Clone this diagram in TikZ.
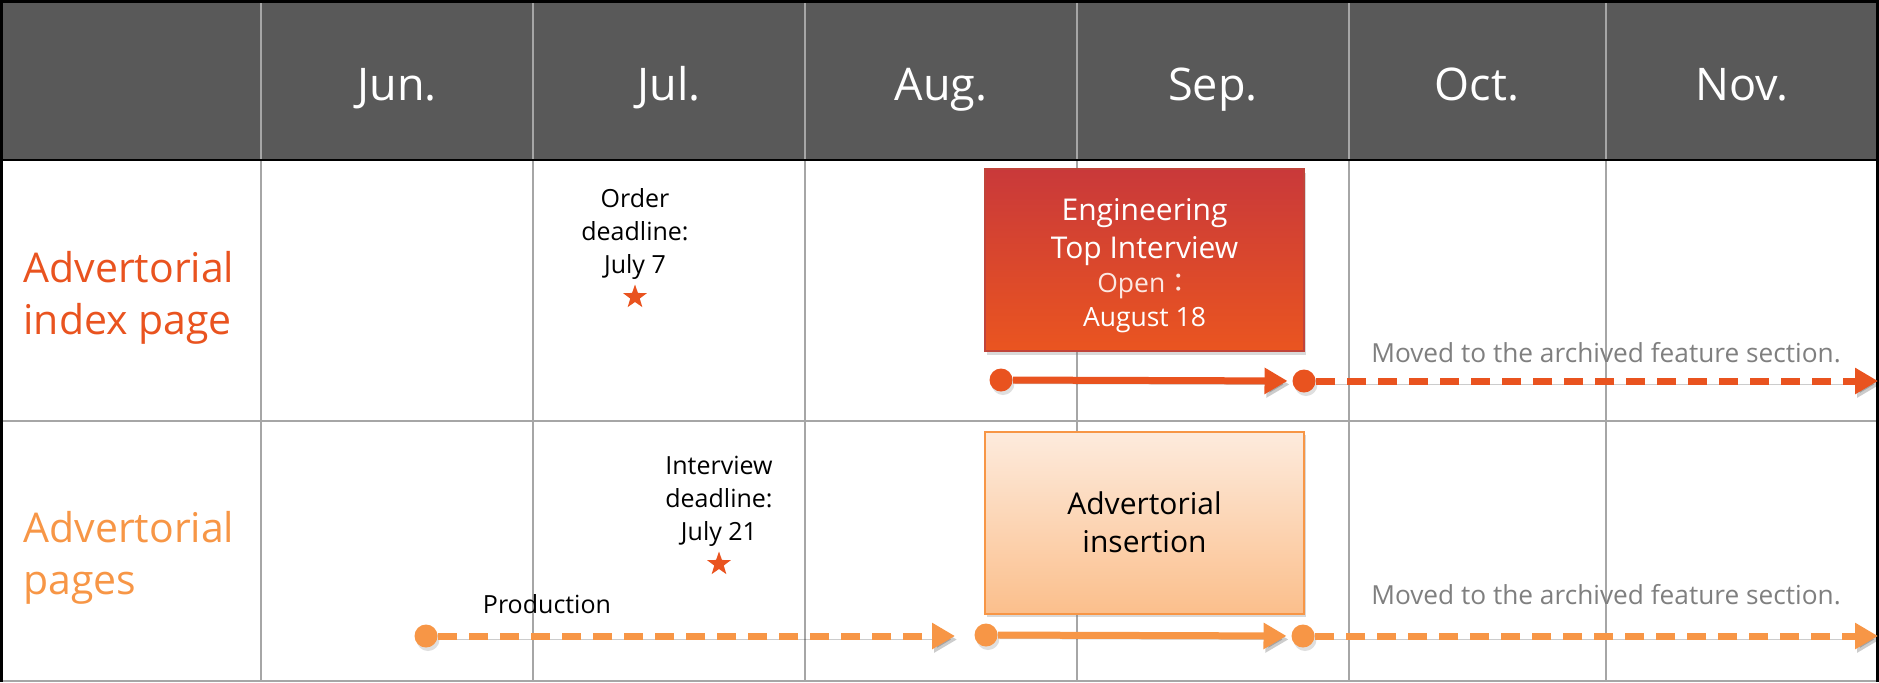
\documentclass[tikz,border=0pt]{standalone}
\usepackage{fontspec}
\setmainfont{Open Sans}
\newfontfamily\cjk{Noto Sans CJK JP}
\usetikzlibrary{arrows.meta,shadows,shapes.geometric}

\definecolor{hdr}{HTML}{595959}
\definecolor{grid}{HTML}{A6A6A6}
\definecolor{redor}{HTML}{E9531F}
\definecolor{lightor}{HTML}{F79646}
\definecolor{boxtop}{HTML}{C9393A}
\definecolor{boxbot}{HTML}{EA5520}
\definecolor{boxline}{HTML}{C0443A}
\definecolor{peachtop}{HTML}{FDEBDD}
\definecolor{peachbot}{HTML}{FBBF8C}
\definecolor{openpink}{HTML}{FCE8E2}
\definecolor{note}{HTML}{7F7F7F}

\begin{document}
\begin{tikzpicture}[x=0.4pt,y=-0.4pt,
 hline/.style={draw=grid,line width=1pt},
 frame/.style={draw=black,line width=1.1pt},
 month/.style={text=white,anchor=base,font=\fontsize{18}{22}\selectfont},
 lanehead/.style={anchor=west,inner sep=0pt,align=left,text=#1,font=\fontsize{16.4}{20.6}\selectfont},
 memo/.style={align=center,inner sep=0pt,font=\fontsize{10}{13.2}\selectfont},
 moved/.style={anchor=base,inner sep=0pt,text=note,font=\fontsize{10.5}{12.6}\selectfont},
 mstar/.style={star,star points=5,star point ratio=2.5,fill=redor,inner sep=0pt,minimum size=10pt},
 dot/.style={circle,fill=#1,inner sep=0pt,minimum size=9.2pt,
   drop shadow={opacity=0.25,shadow xshift=0.8pt,shadow yshift=-1.4pt}},
 ghost/.style={preaction={draw=black,opacity=0.2,transform canvas={shift={(0.8pt,-1.4pt)}}}},
 run/.style={draw=#1,line width=2.8pt,-{Triangle[length=9.2pt,width=10pt]},shorten >=1.8pt,ghost},
 later/.style={run=#1,dash pattern=on 7.4pt off 5pt,shorten >=0pt},
 block/.style={minimum width=127.6pt,minimum height=72.8pt,inner sep=0pt,align=center,
   drop shadow={opacity=0.3,shadow xshift=0.8pt,shadow yshift=-1.4pt}}
]
\useasboundingbox (0,0) rectangle (1879,682);

% table
\fill[hdr] (0,0) rectangle (1879,160);
\foreach \cx in {261,533,805,1077,1349,1606}
  \draw[hline] (\cx,2) -- (\cx,681);
\draw[hline] (0,421) -- (1879,421);
\draw[hline] (0,681) -- (1879,681);
\draw[frame] (1.4,0) -- (1.4,682);
\draw[frame] (0,1.4) -- (1879,1.4);
\draw[frame] (1877.6,0) -- (1877.6,682);
\draw[frame] (0,160) -- (1879,160);

\foreach \m/\cx/\id in {Jun./397/jun,Jul./669/jul,Aug./941/aug,Sep./1213/sep,Oct./1477/oct,Nov./1742/nov}
  \node[month] (\id) at (\cx,100) {\m};

\node[lanehead=redor] (index) at (23,298) {Advertorial\\index page};
\node[lanehead=lightor] (pages) at (23,558) {Advertorial\\pages};

% milestones
\node[memo,anchor=north] (order) at (635,188) {Order\\deadline:\\July 7};
\node[mstar] (ostar) at (635,297) {};
\node[memo,anchor=north] (interview) at (719,456) {Interview\\deadline:\\July 21};
\node[mstar] (istar) at (719,564) {};
\node[memo,anchor=base] (prod) at (547,613) {Production};

% boxes
\node[block,draw=boxline,line width=0.6pt,top color=boxtop,bottom color=boxbot,
  text=white,font=\fontsize{12}{15.2}\selectfont] (eng) at (1144.5,260)
  {\rule{0pt}{13.6pt}Engineering\\Top Interview\\[-1.6pt]{\fontsize{10.6}{13}\selectfont\color{openpink}Open{\cjk ：}}\\[-1.6pt]{\fontsize{10.6}{13}\selectfont August 18}};
\node[block,draw=lightor,line width=0.8pt,top color=peachtop,bottom color=peachbot,
  font=\fontsize{12}{15.2}\selectfont] (ins) at (1144.5,522.5) {Advertorial\\insertion};

% index page lane
\node[dot=redor] (a1) at (1001,380) {};
\node[dot=redor] (a2) at (1304,381) {};
\coordinate (aend) at (1878,381);
\draw[run=redor] (a1) -- (a2);
\draw[later=redor] (a2) -- (aend);
\node[moved] (amoved) at (1606,362) {Moved to the archived feature section.};

% pages lane
\node[dot=lightor] (p1) at (426,636) {};
\coordinate (pend) at (955,636);
\draw[later=lightor] (p1) -- (pend);
\node[dot=lightor] (b1) at (986,635) {};
\node[dot=lightor] (b2) at (1303,636) {};
\coordinate (bend) at (1878,636);
\draw[run=lightor] (b1) -- (b2);
\draw[later=lightor] (b2) -- (bend);
\node[moved] (bmoved) at (1606,604) {Moved to the archived feature section.};

\end{tikzpicture}
\end{document}
